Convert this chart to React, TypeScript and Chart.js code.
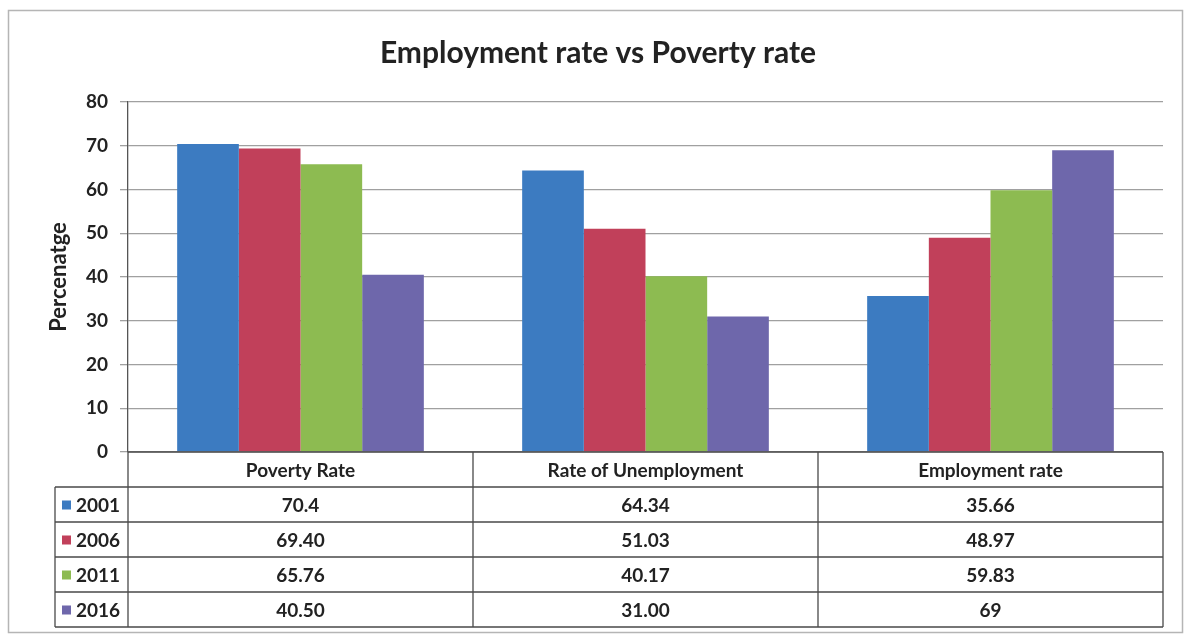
import React, { useEffect, useRef } from "react";
import { Chart, registerables } from "chart.js";

Chart.register(...registerables);

const chartTitle = "Employment rate vs Poverty rate";
const yAxisTitle = "Percenatge";
const categories = ["Poverty Rate", "Rate of Unemployment", "Employment rate"];
const seriesLabels = ["2001", "2006", "2011", "2016"];
const values2001 = [70.4, 64.34, 35.66];
const values2006 = [69.4, 51.03, 48.97];
const values2011 = [65.76, 40.17, 59.83];
const values2016 = [40.5, 31.0, 69];
const decimals2001 = [1, 2, 2];
const decimals2006 = [2, 2, 2];
const decimals2011 = [2, 2, 2];
const decimals2016 = [2, 2, 0];
const yMin = 0;
const yMax = 80;
const yStep = 10;
const seriesColors = ["#3c7bc1", "#c1405a", "#8dbb51", "#6e67ab"];

const FONT = "Lato, 'Open Sans', 'DejaVu Sans', sans-serif";
const TEXT = "#222222";

const allValues = [values2001, values2006, values2011, values2016];
const allDecimals = [decimals2001, decimals2006, decimals2011, decimals2016];

const framePlugin = {
  id: "frame",
  beforeDraw(chart: any) {
    const { ctx, width, height } = chart;
    ctx.save();
    ctx.fillStyle = "#ffffff";
    ctx.fillRect(0, 0, width, height);
    ctx.strokeStyle = "#b5b5b5";
    ctx.lineWidth = 1.5;
    ctx.strokeRect(8.5, 10.5, width - 17, height - 16);
    ctx.fillStyle = TEXT;
    ctx.font = `bold 30px ${FONT}`;
    ctx.textAlign = "center";
    ctx.textBaseline = "middle";
    ctx.fillText(chartTitle, 598, 53);
    ctx.restore();
  },
};

const tablePlugin = {
  id: "dataTable",
  afterDraw(chart: any) {
    const { ctx, chartArea, scales } = chart;
    const xs = scales.x;
    const left = chartArea.left;
    const right = chartArea.right;
    const top = chartArea.bottom;
    const rowH = 35;
    const legendLeft = 55;
    const n = categories.length;
    const colW = (right - left) / n;
    const rows = seriesLabels.length;
    const bottom = top + rowH * (rows + 1);

    ctx.save();
    ctx.strokeStyle = "#4a4a4a";
    ctx.lineWidth = 1.3;
    ctx.beginPath();
    ctx.moveTo(left, top);
    ctx.lineTo(right, top);
    for (let r = 1; r <= rows + 1; r++) {
      const y = top + r * rowH;
      ctx.moveTo(legendLeft, y);
      ctx.lineTo(right, y);
    }
    ctx.moveTo(legendLeft, top + rowH);
    ctx.lineTo(legendLeft, bottom);
    for (let k = 0; k <= n; k++) {
      const x = left + k * colW;
      ctx.moveTo(x, top);
      ctx.lineTo(x, bottom);
    }
    ctx.stroke();

    ctx.fillStyle = TEXT;
    ctx.textAlign = "center";
    ctx.textBaseline = "middle";
    ctx.font = `bold 19px ${FONT}`;
    categories.forEach((c, i) => {
      ctx.fillText(c, xs.getPixelForValue(i), top + rowH / 2 + 1);
    });

    seriesLabels.forEach((lab, s) => {
      const cy = top + (s + 1) * rowH + rowH / 2 + 1;
      ctx.fillStyle = seriesColors[s];
      ctx.fillRect(62, cy - 5, 9, 9);
      ctx.fillStyle = TEXT;
      ctx.textAlign = "left";
      ctx.fillText(lab, 76, cy);
      ctx.textAlign = "center";
      allValues[s].forEach((v, i) => {
        ctx.fillText(v.toFixed(allDecimals[s][i]), xs.getPixelForValue(i), cy);
      });
    });
    ctx.restore();
  },
};

export default function App() {
  const ref = useRef<HTMLCanvasElement | null>(null);

  useEffect(() => {
    if (!ref.current) return;
    const chart = new Chart(ref.current, {
      type: "bar",
      data: {
        labels: categories,
        datasets: seriesLabels.map((lab, s) => ({
          label: lab,
          data: allValues[s],
          backgroundColor: seriesColors[s],
          borderWidth: 0,
          categoryPercentage: 0.715,
          barPercentage: 1,
        })),
      },
      options: {
        responsive: false,
        animation: false,
        devicePixelRatio: 1,
        layout: { padding: { left: 0, right: 28, top: 102, bottom: 186 } },
        plugins: {
          legend: { display: false },
          tooltip: { enabled: false },
          title: { display: false },
        },
        scales: {
          x: { display: false },
          y: {
            min: yMin,
            max: yMax,
            ticks: {
              stepSize: yStep,
              color: TEXT,
              padding: 12,
              font: { family: FONT, size: 19, weight: "bold" },
            },
            grid: { color: "#a0a0a0", lineWidth: 1.3, tickLength: 8 },
            border: { display: true, color: "#555555", width: 1.3 },
            title: {
              display: true,
              text: yAxisTitle,
              color: TEXT,
              font: { family: FONT, size: 22, weight: "bold" },
              padding: { top: 46, bottom: 0 },
            },
            afterFit(axis: any) {
              axis.width = 128;
            },
          },
        },
      },
      plugins: [framePlugin, tablePlugin],
    });
    return () => chart.destroy();
  }, []);

  return (
    <div style={{ position: "fixed", left: 0, top: 0, width: 1191, height: 638, background: "#fff" }}>
      <canvas ref={ref} width={1191} height={638} style={{ display: "block" }} />
    </div>
  );
}
